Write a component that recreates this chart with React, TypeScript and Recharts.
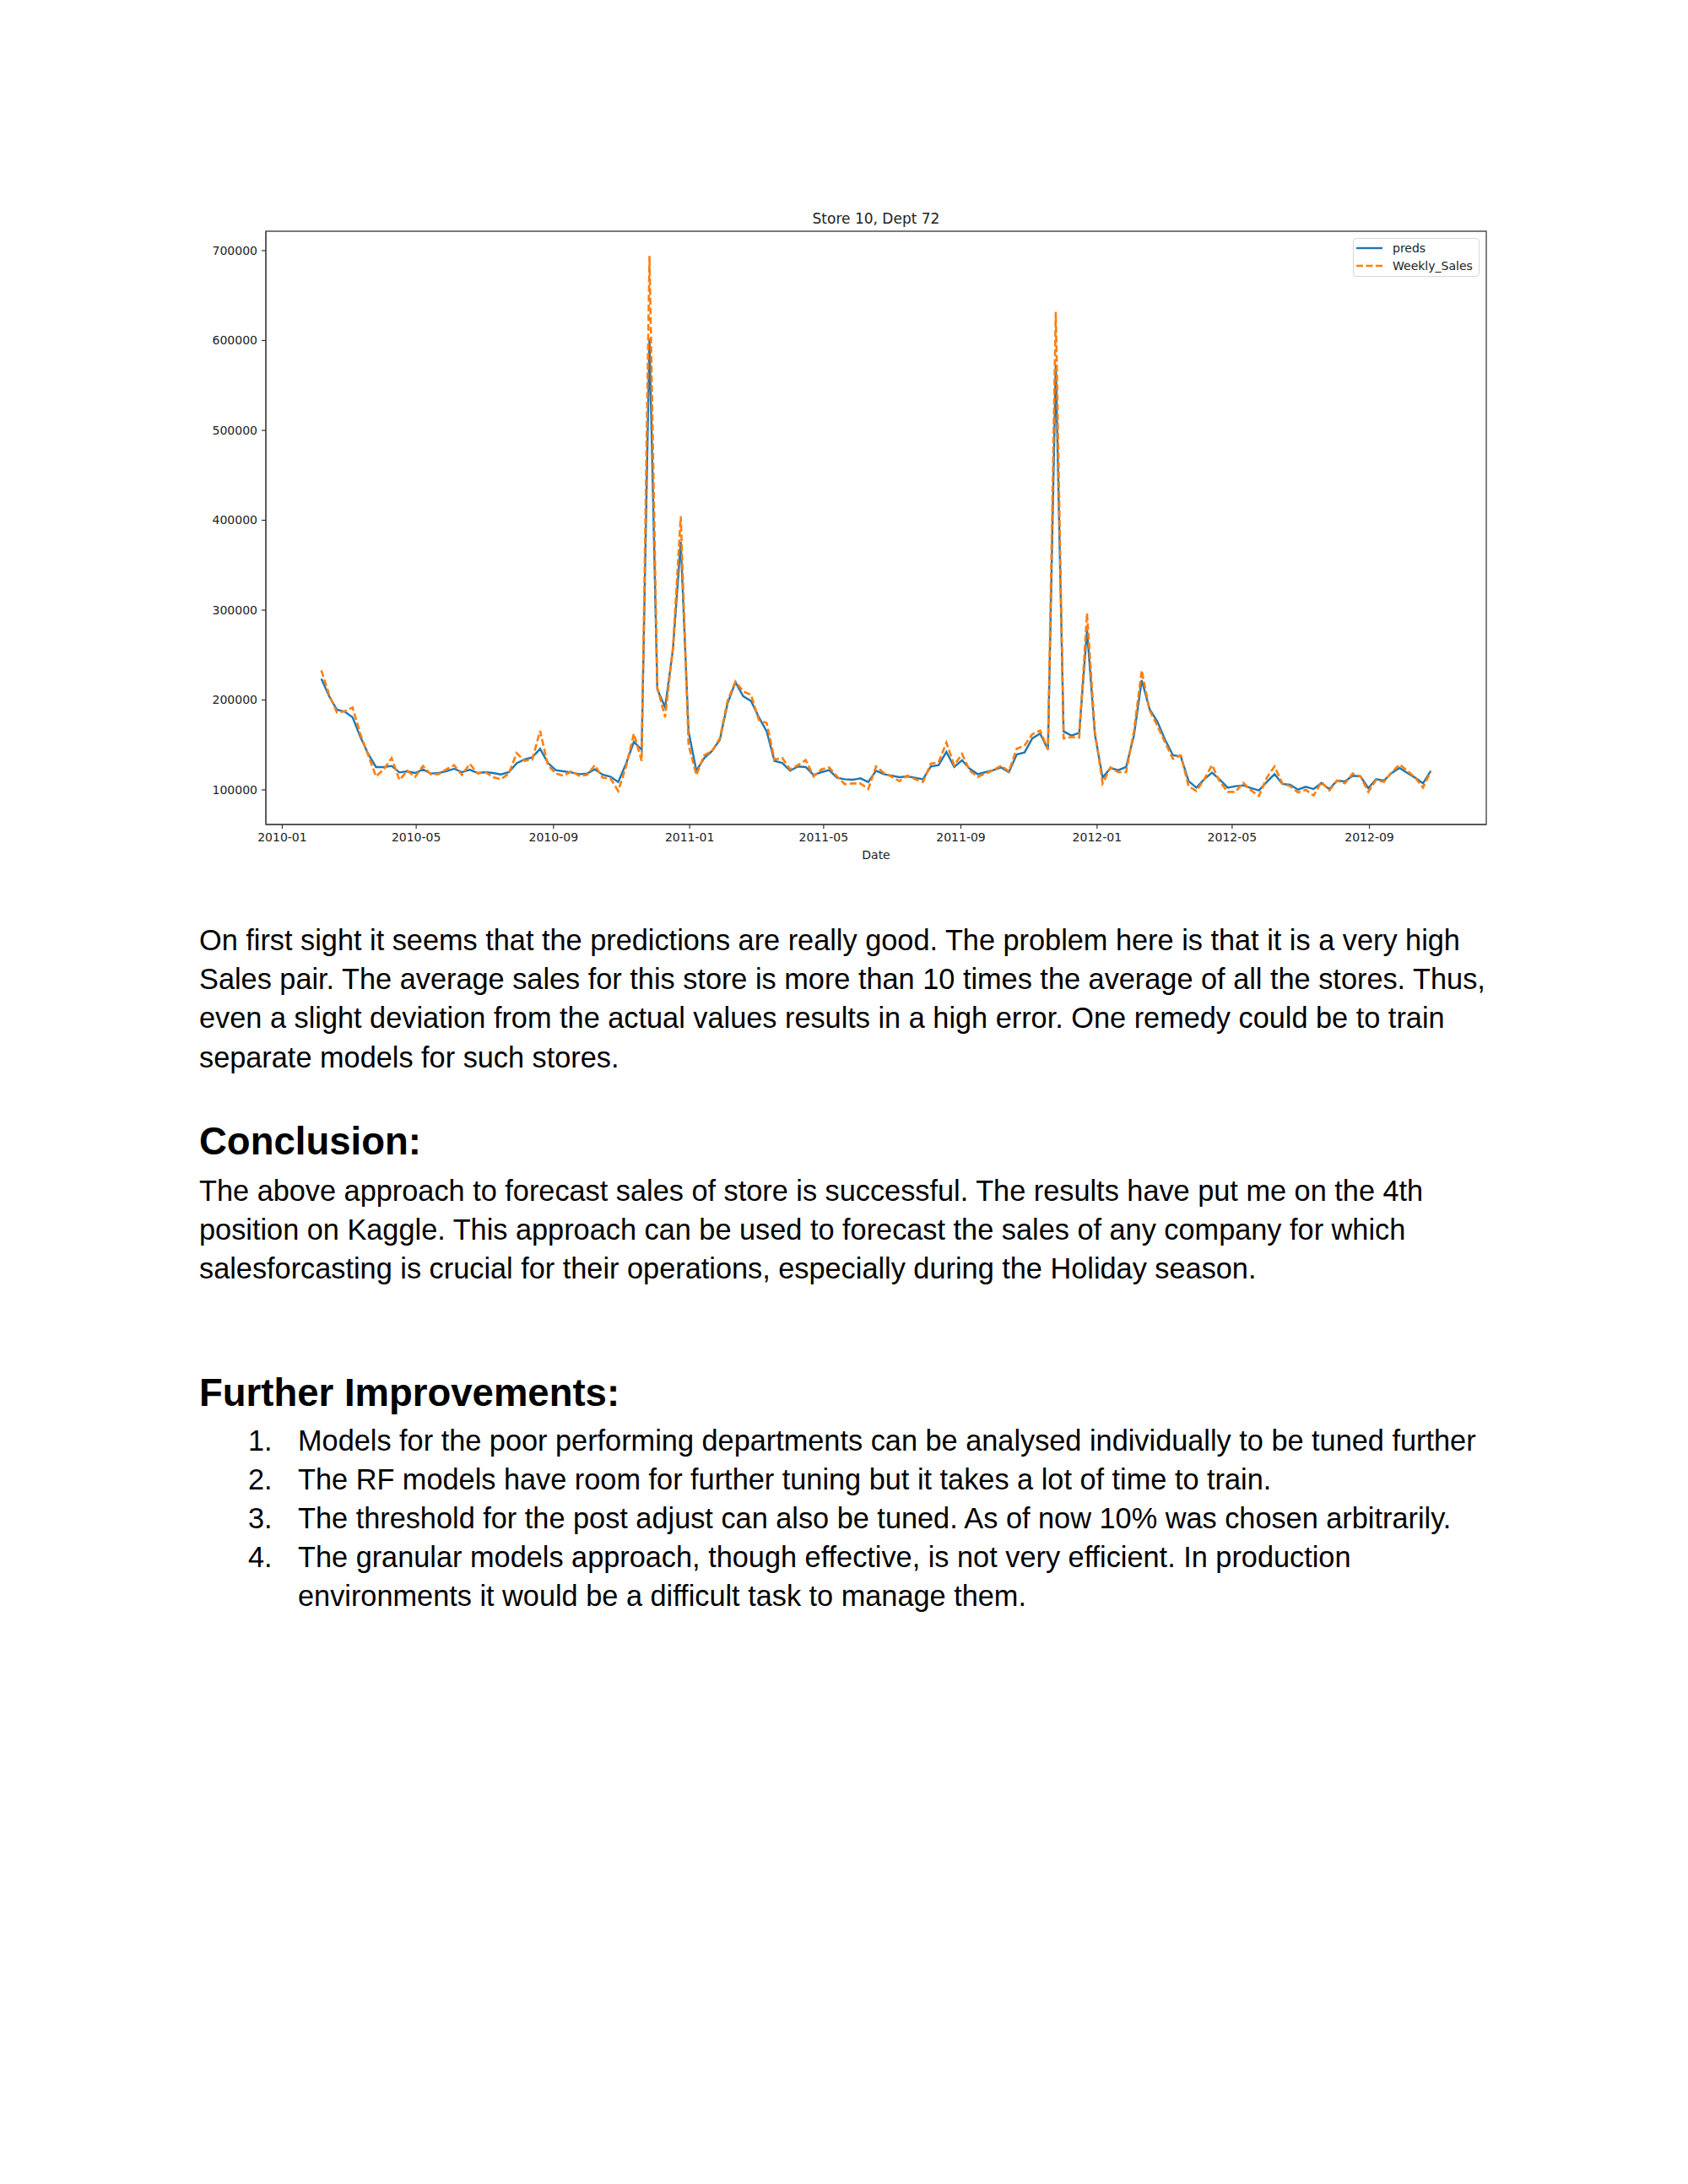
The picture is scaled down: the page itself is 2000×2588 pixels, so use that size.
import React from "react";
import { LineChart, Line, XAxis, YAxis, Legend, ReferenceArea } from "recharts";

const START = Date.UTC(2010, 1, 5);
const DAY = 86400000;

const preds = [
  223600, 204200, 189200, 187000, 180800, 158800, 140000, 125400, 125400, 126600,
  119400, 120700, 118800, 122800, 118200, 118800, 120700, 123500, 119700, 122500,
  118800, 119700, 118800, 117200, 119700, 129700, 133800, 136300, 145700, 130000,
  121900, 120700, 119400, 117500, 118200, 122800, 117000, 114800, 108800, 129100,
  153500, 144800, 602000, 212000, 191700, 256000, 376000, 165000, 121300, 135400,
  143200, 155700, 196400, 219900, 204200, 198900, 180800, 165100, 132200, 130000,
  121300, 126000, 125400, 116600, 119700, 121900, 113500, 111900, 111300, 112800,
  108800, 121300, 117500, 115800, 114100, 115000, 113500, 111900, 126000, 127500,
  142200, 125400, 132900, 123500, 117500, 119700, 121900, 125000, 119700, 139400,
  141600, 157300, 162600, 144800, 573000, 165100, 160400, 163500, 277800, 162000,
  113500, 124400, 121900, 125400, 160400, 222100, 190100, 176000, 155700, 138500,
  137200, 109700, 102500, 111900, 119100, 111300, 102500, 104100, 105000, 101900,
  99400, 108800, 117500, 106600, 105600, 100300, 103500, 100900, 107800, 100900,
  110300, 109400, 115700, 115000, 101900, 111900, 110300, 118800, 124400, 118800,
  113500, 107200, 121300,
];

const weeklySales = [
  233000, 205800, 186000, 187600, 191700, 162000, 138500, 115000, 122900, 135400,
  111000, 121300, 114400, 126600, 117500, 117500, 122800, 127500, 116600, 129100,
  118200, 119700, 114100, 111900, 118200, 141000, 132300, 133800, 165700, 127500,
  118200, 115700, 120700, 115700, 116600, 127500, 113500, 112900, 98700, 126000,
  162600, 132200, 694000, 214000, 180800, 258000, 404500, 150000, 116600, 138500,
  143200, 157300, 199500, 220500, 209500, 205800, 177600, 174500, 133800, 135400,
  122800, 127500, 133200, 115000, 122800, 125000, 115000, 106300, 107200, 107200,
  101000, 126000, 118800, 114700, 109700, 116000, 111900, 108800, 129100, 130700,
  152600, 127500, 140100, 121300, 114400, 118100, 121900, 126900, 120700, 145700,
  149400, 162000, 166000, 144800, 631800, 157300, 158800, 158200, 296600, 165100,
  107200, 125000, 119700, 119700, 165100, 233000, 188600, 171400, 152600, 134400,
  138500, 104100, 98700, 111900, 127500, 108800, 97800, 97800, 107800, 99400,
  93100, 113500, 126000, 107200, 104100, 97200, 100000, 93700, 108800, 99400,
  110300, 107200, 118200, 115000, 97800, 111000, 108800, 119700, 128200, 121300,
  113500, 102500, 120700,
];

const dates = preds.map((_, i) => START + i * 7 * DAY);

const xTicks = [
  Date.UTC(2010, 0, 1), Date.UTC(2010, 4, 1), Date.UTC(2010, 8, 1),
  Date.UTC(2011, 0, 1), Date.UTC(2011, 4, 1), Date.UTC(2011, 8, 1),
  Date.UTC(2012, 0, 1), Date.UTC(2012, 4, 1), Date.UTC(2012, 8, 1),
];
const yTicks = [100000, 200000, 300000, 400000, 500000, 600000, 700000];

const series = [
  { key: "preds", color: "#1f77b4", dash: undefined as string | undefined, width: 2.4 },
  { key: "Weekly_Sales", color: "#ff7f0e", dash: "8 3.5", width: 2.6 },
];

const data = dates.map((t, i) => ({ t, preds: preds[i], Weekly_Sales: weeklySales[i] }));

const span = dates[dates.length - 1] - dates[0];
const xDomain = [dates[0] - span * 0.05, dates[dates.length - 1] + span * 0.05];
const yDomain = [61500, 721600];

const fmtDate = (v: number) => {
  const d = new Date(v);
  const m = d.getUTCMonth() + 1;
  return `${d.getUTCFullYear()}-${m < 10 ? "0" + m : m}`;
};

const tickFont = { fontFamily: "DejaVu Sans", fontSize: 14, fill: "#222" };
const FRAME = "#4d4d4d";

const LegendBox = () => (
  <div
    style={{
      width: 148,
      height: 44,
      border: "1px solid #d6d6d6",
      borderRadius: 4,
      background: "rgba(255,255,255,0.85)",
      fontFamily: "DejaVu Sans",
      fontSize: 14,
      color: "#222",
      boxSizing: "content-box",
    }}
  >
    {series.map((s, i) => (
      <div key={s.key} style={{ position: "absolute", left: 4, top: 1.5 + i * 21.6, height: 20, display: "flex", alignItems: "center" }}>
        <svg width={32} height={20} style={{ display: "block" }}>
          <line x1={0} y1={10} x2={31} y2={10} stroke={s.color} strokeWidth={2.4} strokeDasharray={s.dash} />
        </svg>
        <span style={{ marginLeft: 11, lineHeight: "20px", whiteSpace: "nowrap" }}>{s.key}</span>
      </div>
    ))}
  </div>
);

const textStyle: React.CSSProperties = {
  position: "absolute",
  fontFamily: "'Liberation Sans', Arial, sans-serif",
  fontSize: 34.3,
  lineHeight: "46.2px",
  color: "#000",
  whiteSpace: "nowrap",
};

const p1 = [
  "On first sight it seems that the predictions are really good. The problem here is that it is a very high",
  "Sales pair. The average sales for this store is more than 10 times the average of all the stores. Thus,",
  "even a slight deviation from the actual values results in a high error. One remedy could be to train",
  "separate models for such stores.",
];
const p2 = [
  "The above approach to forecast sales of store is successful. The results have put me on the 4th",
  "position on Kaggle. This approach can be used to forecast the sales of any company for which",
  "salesforcasting is crucial for their operations, especially during the Holiday season.",
];
const listItems = [
  ["1.", "Models for the poor performing departments can be analysed individually to be tuned further"],
  ["2.", "The RF models have room for further tuning but it takes a lot of time to train."],
  ["3.", "The threshold for the post adjust can also be tuned. As of now 10% was chosen arbitrarily."],
  ["4.", "The granular models approach, though effective, is not very efficient. In production"],
  ["", "environments it would be a difficult task to manage them."],
];

export default function App() {
  return (
    <div style={{ position: "absolute", left: 0, top: 0, width: 2000, height: 2588, background: "#fff", overflow: "hidden" }}>
      <div
        style={{
          position: "absolute",
          left: 315,
          width: 1446,
          top: 248.5,
          textAlign: "center",
          fontFamily: "DejaVu Sans",
          fontSize: 17,
          lineHeight: "20px",
          color: "#222",
        }}
      >
        Store 10, Dept 72
      </div>
      <div style={{ position: "absolute", left: 0, top: 0 }}>
        <LineChart width={2000} height={1040} data={data} margin={{ top: 274, right: 239, bottom: 23, left: 215 }}>
          <XAxis
            dataKey="t"
            type="number"
            domain={xDomain}
            allowDataOverflow
            ticks={xTicks}
            tickFormatter={fmtDate}
            tick={tickFont}
            tickSize={5}
            tickMargin={5.5}
            height={40}
            stroke={FRAME}
            axisLine={{ stroke: FRAME, strokeWidth: 1.4 }}
            tickLine={{ stroke: "#333", strokeWidth: 1.2 }}
            interval={0}
          />
          <YAxis
            type="number"
            domain={yDomain}
            allowDataOverflow
            ticks={yTicks}
            tick={tickFont}
            tickSize={5}
            tickMargin={5}
            width={100}
            axisLine={{ stroke: FRAME, strokeWidth: 1.4 }}
            tickLine={{ stroke: "#333", strokeWidth: 1.2 }}
            interval={0}
          />
          <ReferenceArea
            x1={xDomain[0]}
            x2={xDomain[1]}
            y1={yDomain[0]}
            y2={yDomain[1]}
            fill="none"
            fillOpacity={0}
            stroke={FRAME}
            strokeWidth={1.4}
            ifOverflow="extendDomain"
          />
          <Legend
            layout="horizontal"
            verticalAlign="middle"
            align="center"
            content={() => <LegendBox />}
            wrapperStyle={{ position: "absolute", left: 1603, top: 282, width: 150, height: 46 }}
          />
          {series.map((s) => (
            <Line
              key={s.key}
              type="linear"
              dataKey={s.key}
              stroke={s.color}
              strokeWidth={s.width}
              strokeDasharray={s.dash}
              dot={false}
              activeDot={false}
              isAnimationActive={false}
            />
          ))}
        </LineChart>
      </div>
      <div
        style={{
          position: "absolute",
          left: 1000,
          top: 1003,
          width: 76,
          textAlign: "center",
          fontFamily: "DejaVu Sans",
          fontSize: 14,
          lineHeight: "20px",
          color: "#222",
        }}
      >
        Date
      </div>

      {p1.map((l, i) => (
        <div key={"p1" + i} style={{ ...textStyle, left: 236, top: 1091 + i * 46.2 }}>{l}</div>
      ))}
      <div style={{ ...textStyle, left: 236, top: 1327, fontSize: 45.5, fontWeight: "bold", lineHeight: "52px" }}>Conclusion:</div>
      {p2.map((l, i) => (
        <div key={"p2" + i} style={{ ...textStyle, left: 236, top: 1388 + i * 46.2 }}>{l}</div>
      ))}
      <div style={{ ...textStyle, left: 236, top: 1624.5, fontSize: 45.5, fontWeight: "bold", lineHeight: "52px" }}>Further Improvements:</div>
      {listItems.map(([n, l], i) => (
        <React.Fragment key={"li" + i}>
          {n && <div style={{ ...textStyle, left: 294, top: 1683.5 + i * 46.2 }}>{n}</div>}
          <div style={{ ...textStyle, left: 353, top: 1683.5 + i * 46.2 }}>{l}</div>
        </React.Fragment>
      ))}
    </div>
  );
}
